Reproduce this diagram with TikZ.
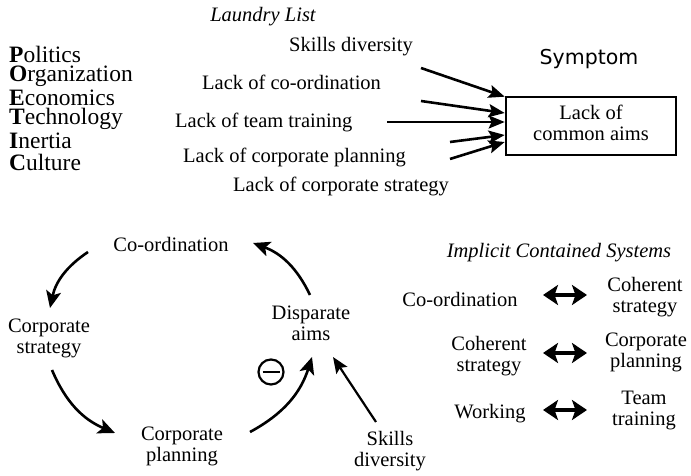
\documentclass[tikz,border=0pt]{standalone}
\usepackage{fontspec}
\setmainfont{Liberation Serif}
\newfontfamily\bodyserif{Liberation Serif}
\newfontfamily\headsans{DejaVu Sans}
\usetikzlibrary{arrows.meta}
% body face used for every label
\newcommand\bodyfont{\bodyserif\fontsize{20.5}{21}\selectfont}
% two centred lines, the face chosen again on each line
\newcommand\twolines[2]{\begin{tabular}{@{}c@{}}\bodyfont #1\\\bodyfont #2\end{tabular}}
\begin{document}
\begin{tikzpicture}[x=1pt,y=1pt,
  txt/.style={font=\bodyfont, inner sep=0pt},
  itl/.style={font=\bodyfont\itshape, inner sep=0pt},
  poetic/.style={font=\bodyserif\fontsize{23.5}{24}\selectfont, inner sep=0pt, anchor=west},
  feed/.style={line width=2.6pt, -{Stealth[length=16pt,width=13pt,inset=3pt]}},
  loop/.style={line width=2.6pt, -{Stealth[length=17pt,width=15pt,inset=4pt]}},
  twoway/.style={line width=3.6pt, {Stealth[length=15pt,width=20pt,inset=3.5pt]}-{Stealth[length=15pt,width=20pt,inset=3.5pt]}},
  symbox/.style={draw, line width=2.6pt, minimum width=170pt, minimum height=58pt, txt}
]
\useasboundingbox (0,0) rectangle (691,476);

% ---------- upper half: laundry list feeding the symptom ----------
\node[itl] (laundry) at (263,459) {Laundry List};
\node[txt] (skills) at (351,429) {Skills diversity};
\node[font=\headsans\fontsize{20.5}{22}\selectfont, inner sep=0pt] (symptom) at (589,417) {Symptom};

\node[poetic] (p) at (9,421.5) {\textbf{P}olitics};
\node[poetic] (o) at (9,400) {\textbf{O}rganization};
\node[poetic] (e) at (9,378.5) {\textbf{E}conomics};
\node[poetic] (t) at (9,357) {\textbf{T}echnology};
\node[poetic] (i) at (9,335.5) {\textbf{I}nertia};
\node[poetic] (c) at (9,314) {\textbf{C}ulture};

\node[txt, anchor=west] (lcoord) at (202,394) {Lack of co-ordination};
\node[txt, anchor=west] (lteam)  at (175,353) {Lack of team training};
\node[txt, anchor=west] (lplan)  at (183,318) {Lack of corporate planning};
\node[txt, anchor=west] (lstrat) at (233,289) {Lack of corporate strategy};

\node[symbox] (aims) at (591,350) {\twolines{Lack of}{common aims}};

% free tails of the feeding arrows
\coordinate (f1) at (421,408);
\coordinate (f2) at (421,375);
\coordinate (f3) at (387,354);
\coordinate (f4) at (450,334);
\coordinate (f5) at (450,317);
% heads along the left side of the box
\coordinate (h1) at ([yshift=-1pt]aims.north west);
\coordinate (h2) at ([yshift=13pt]aims.west);
\coordinate (h3) at ([yshift=4pt]aims.west);
\coordinate (h4) at ([yshift=-9pt]aims.west);
\coordinate (h5) at ([yshift=-16pt]aims.west);

\draw[feed] (f1) -- (h1);
\draw[feed] (f2) -- (h2);
\draw[feed] (f3) -- (h3);
\draw[feed] (f4) -- (h4);
\draw[feed] (f5) -- (h5);

% ---------- lower left: the balancing loop ----------
\node[txt] (coord)  at (171,232) {Co-ordination};
\node[txt] (cstrat) at (49,137)  {\twolines{Corporate}{strategy}};
\node[txt] (cplan)  at (182,29)  {\twolines{Corporate}{planning}};
\node[txt] (disp)   at (311,150) {\twolines{Disparate}{aims}};
\node[txt] (skills2) at (390,24) {\twolines{Skills}{diversity}};

\coordinate (a1s) at (88,224);  \coordinate (a1e) at (50,168);
\coordinate (a2s) at (52,106);  \coordinate (a2e) at (115,43);
\coordinate (a3s) at (250,44);  \coordinate (a3e) at (312,119);
\coordinate (a4s) at (310,181); \coordinate (a4e) at (253,233);
\coordinate (a5s) at (376,54);  \coordinate (a5e) at (333,119);

\draw[loop] (a1s) to[bend right=22] (a1e);
\draw[loop] (a2s) to[bend right=22] (a2e);
\draw[loop] (a3s) to[bend right=22] (a3e);
\draw[loop] (a4s) to[bend right=22] (a4e);
\draw[line width=2.2pt, -{Stealth[length=16pt,width=13pt,inset=3pt]}] (a5s) -- (a5e);

% loop polarity sign
\node[draw, circle, line width=2.2pt, minimum size=25pt, inner sep=0pt] (sign) at (271,104) {};
\draw[line width=1.6pt] ([xshift=-8.5pt]sign.center) -- ([xshift=8.5pt]sign.center);

% ---------- lower right: implicit contained systems ----------
\node[itl] (ics) at (559,223) {Implicit Contained Systems};

\node[txt] (l1) at (460,177) {Co-ordination};
\node[txt] (l2) at (489,119) {\twolines{Coherent}{strategy}};
\node[txt] (l3) at (490,62)  {Working};
\node[txt] (r1) at (645,178) {\twolines{Coherent}{strategy}};
\node[txt] (r2) at (646,123) {\twolines{Corporate}{planning}};
\node[txt] (r3) at (644,65)  {\twolines{Team}{training}};

\coordinate (d1a) at (543,181); \coordinate (d1b) at (587,181);
\coordinate (d2a) at (543,123); \coordinate (d2b) at (587,123);
\coordinate (d3a) at (543,66);  \coordinate (d3b) at (587,66);
\draw[twoway] (d1a) -- (d1b);
\draw[twoway] (d2a) -- (d2b);
\draw[twoway] (d3a) -- (d3b);
\end{tikzpicture}
\end{document}
